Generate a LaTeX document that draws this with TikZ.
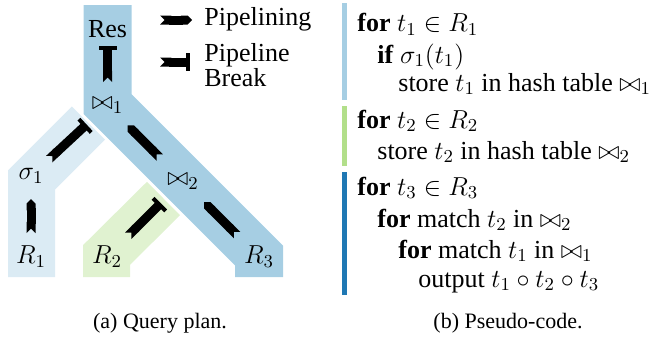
\RequirePackage{fix-cm}
\documentclass[tikz,border=0pt]{standalone}
\usepackage[no-math]{fontspec}
\setmainfont{Liberation Serif}
\usetikzlibrary{arrows.meta}

\definecolor{pairedLight}{HTML}{A6CEE3}
\definecolor{pairedDark}{HTML}{1F78B4}
\definecolor{pairedGreen}{HTML}{B2DF8A}

\begin{document}
\begin{tikzpicture}[
  x=0.5pt, y=-0.5pt,
  % --- Style definitions ---
  band/.style={draw=#1, line width=23.5pt, line join=miter},
  lbl/.style={inner sep=0pt, font=\fontsize{13}{15}\selectfont},
  code/.style={anchor=base west, inner sep=0pt, font=\fontsize{13}{15}\selectfont},
  subcap/.style={inner sep=0pt, font=\fontsize{11}{13}\selectfont},
  pipe/.style={line width=4.5pt, {Triangle Cap[reversed]}-{Triangle Cap}},
  brk/.style={line width=4.5pt, {Triangle Cap[reversed]}-{Rectangle[length=2pt, width=9pt]}},
]
\useasboundingbox (0,0) rectangle (668,337);

% ===== Query plan: bands (background) =====
\draw[band=pairedLight!40] (31.5,277) -- (31.5,180) -- (88.5,123);
\draw[band=pairedGreen!40] (106.5,277) -- (106.5,255) -- (163.5,198.5);
\draw[band=pairedLight, line width=24pt] (107.5,5) -- (107.5,104) -- (259,255.5) -- (259,277);

% ===== Query plan: operators =====
\node[lbl] (res) at (107.5,29) {Res};
\node[lbl] (j1)  at (107.5,105) {$\bowtie_1$};
\node[lbl] (j2)  at (183,181) {$\bowtie_2$};
\node[lbl] (s1)  at (31,176) {$\sigma_1$};
\node[lbl] (r1)  at (31,257) {$R_1$};
\node[lbl] (r2)  at (107,257) {$R_2$};
\node[lbl] (r3)  at (259,257) {$R_3$};

% --- Legend ---
\node[lbl, anchor=west] (lgpipe) at (204,19) {Pipelining};
\node[lbl, anchor=west, align=left, font=\fontsize{13}{11.5}\selectfont] (lgbrk) at (204,65) {Pipeline\\Break};
\coordinate (lgp0) at (160,20);
\coordinate (lgb0) at (160,62);

% ===== Arrows =====
\draw[pipe, shorten <=12pt, shorten >=11.5pt] (r1.center) -- (s1.center);
\draw[brk, shorten <=12.4pt, shorten >=14.3pt] (s1.center) -- (j1.center);
\draw[brk, shorten <=11.5pt, shorten >=8.5pt] (j1.center) -- (res.center);
\draw[pipe, shorten <=16.5pt, shorten >=14.3pt] (j2.center) -- (j1.center);
\draw[brk, shorten <=15pt, shorten >=15.7pt] (r2.center) -- (j2.center);
\draw[pipe, shorten <=15.5pt, shorten >=15pt] (r3.center) -- (j2.center);

% Legend arrows
\draw[pipe, shorten >=6pt] (lgp0) -- (lgp0 -| lgpipe.west);
\draw[brk, shorten >=7pt] (lgb0) -- (lgb0 -| lgbrk.west);

% ===== Pseudo-code =====
\fill[pairedLight] (342,3) rectangle (347,100);
\fill[pairedGreen] (342,106) rectangle (347,166);
\fill[pairedDark]  (342,172) rectangle (347,295);

\node[code] (c1) at (357,31.7) {\textbf{for} $t_1 \in R_1$};
\node[code] (c2) at (377,63)   {\textbf{if} $\sigma_1(t_1)$};
\node[code] (c3) at (398,91)   {store $t_1$ in hash table $\bowtie_1$};
\node[code] (c4) at (357,128)  {\textbf{for} $t_2 \in R_2$};
\node[code] (c5) at (377,159)  {store $t_2$ in hash table $\bowtie_2$};
\node[code] (c6) at (357,195)  {\textbf{for} $t_3 \in R_3$};
\node[code] (c7) at (377,227)  {\textbf{for} match $t_2$ in $\bowtie_2$};
\node[code] (c8) at (398,258)  {\textbf{for} match $t_1$ in $\bowtie_1$};
\node[code] (c9) at (418,287)  {output $t_1 \circ t_2 \circ t_3$};

% ===== Captions =====
\node[subcap] (capa) at (160,323) {(a) Query plan.};
\node[subcap] (capb) at (508,323) {(b) Pseudo-code.};

\end{tikzpicture}
\end{document}
